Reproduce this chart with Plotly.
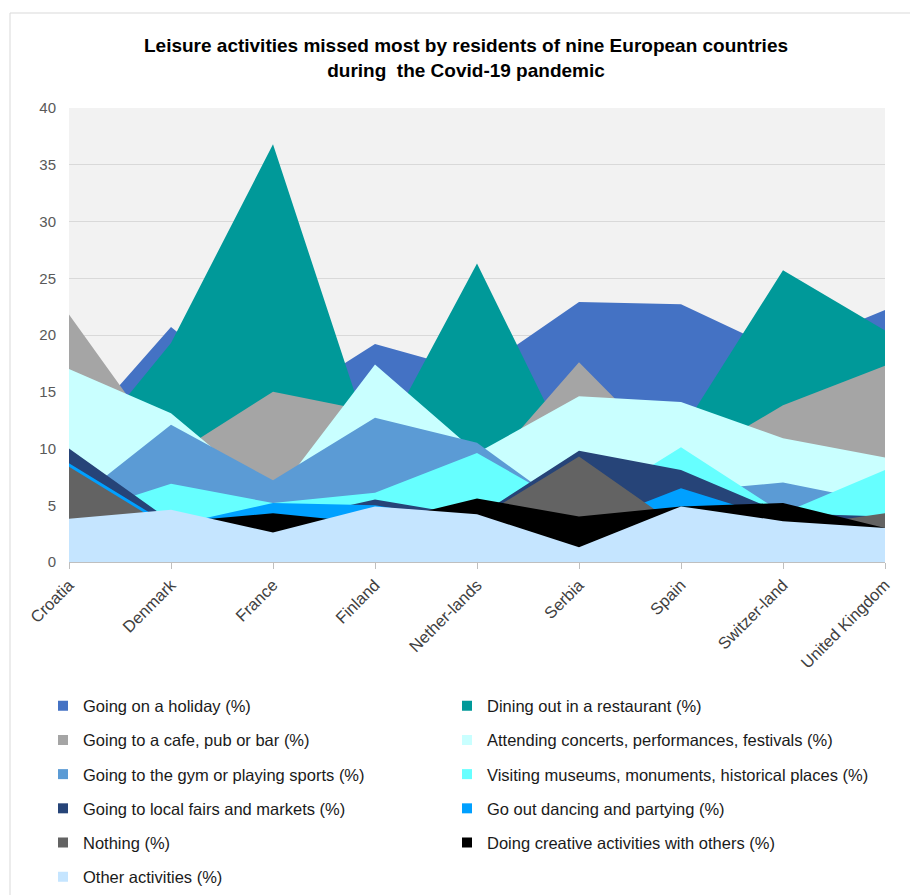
import plotly.graph_objects as go

countries = ["Croatia", "Denmark", "France", "Finland", "Nether-lands",
             "Serbia", "Spain", "Switzer-land", "United Kingdom"]

series_names = [
    "Going on a holiday (%)",
    "Dining out in a restaurant (%)",
    "Going to a cafe, pub or bar (%)",
    "Attending concerts, performances, festivals (%)",
    "Going to the gym or playing sports (%)",
    "Visiting museums, monuments, historical places (%)",
    "Going to local fairs and markets (%)",
    "Go out dancing and partying (%)",
    "Nothing (%)",
    "Doing creative activities with others (%)",
    "Other activities (%)",
]

holiday = [10.5, 20.7, 13.5, 19.2, 16.7, 22.9, 22.7, 18.5, 22.2]
dining = [8.3, 19.3, 36.8, 9.5, 26.3, 8.0, 11.5, 25.7, 20.4]
cafe = [21.8, 9.3, 15.0, 13.2, 7.3, 17.6, 8.5, 13.8, 17.3]
concerts = [17.0, 13.1, 5.6, 17.4, 9.6, 14.6, 14.1, 10.9, 9.2]
gym = [5.0, 12.1, 7.2, 12.7, 10.5, 4.0, 6.2, 7.0, 5.2]
museums = [4.0, 6.9, 5.2, 6.1, 9.6, 4.5, 10.1, 4.3, 8.1]
fairs = [10.0, 3.6, 3.5, 5.5, 4.0, 9.8, 8.1, 4.3, 4.0]
dancing = [8.7, 3.2, 5.2, 5.0, 3.5, 3.0, 6.5, 3.7, 3.0]
nothing = [8.4, 2.9, 2.0, 3.0, 3.8, 9.3, 3.0, 3.0, 4.3]
creative = [3.0, 3.5, 4.3, 3.4, 5.6, 4.0, 4.9, 5.2, 3.0]
other = [3.8, 4.6, 2.6, 4.9, 4.2, 1.3, 4.9, 3.6, 3.0]

colors = ["#4472C4", "#009999", "#A5A5A5", "#C9FFFF", "#5B9BD5", "#66FFFF",
          "#264478", "#00A0FF", "#636363", "#000000", "#C5E5FF"]

values = [holiday, dining, cafe, concerts, gym, museums, fairs, dancing,
          nothing, creative, other]

FONT = "Liberation Sans, Arial, sans-serif"

fig = go.Figure()
for name, vals, col in zip(series_names, values, colors):
    fig.add_trace(go.Scatter(
        x=countries, y=vals, mode="none", fill="tozeroy", fillcolor=col,
        name=name, showlegend=False, hoverinfo="skip"))

# legend entries (square markers, Excel-like), one legend per entry
W, H = 910, 895
L, R, T, B = 69, 25, 108, 333
pw, ph = W - L - R, H - T - B
legend_layouts = {}
for i, (name, col) in enumerate(zip(series_names, colors)):
    lid = "legend" if i == 0 else f"legend{i + 1}"
    fig.add_trace(go.Scatter(
        x=[None], y=[None], mode="markers",
        marker=dict(symbol="square", size=10, color=col),
        name=name, legend=lid, showlegend=True))
    row, colidx = divmod(i, 2)
    xpx = 43 if colidx == 0 else 447
    ypx = 706 + row * 34.2
    legend_layouts[lid] = dict(
        x=(xpx - L) / pw, y=(H - B - ypx) / ph, xanchor="left", yanchor="middle",
        bgcolor="rgba(0,0,0,0)", font=dict(family=FONT, size=16.5, color="#1a1a1a"),
        itemwidth=30)

fig.update_layout(**legend_layouts)

fig.update_layout(
    width=W, height=H,
    margin=dict(l=L, r=R, t=T, b=B, autoexpand=False),
    paper_bgcolor="white", plot_bgcolor="#F2F2F2",
    font=dict(family=FONT),
    title=dict(
        text="Leisure activities missed most by residents of nine European countries<br>during  the Covid-19 pandemic",
        x=466 / W, xanchor="center", xref="container",
        y=1 - 52 / H, yanchor="top", yref="container",
        font=dict(family=FONT, size=19, color="black", weight="bold")),
    xaxis=dict(type="category", range=[0, 8], showgrid=False, zeroline=False,
               showline=True, linecolor="#BFBFBF", linewidth=1,
               ticks="outside", ticklen=6, tickcolor="#BFBFBF",
               tickangle=-45, tickfont=dict(family=FONT, size=16.5, color="#404040")),
    yaxis=dict(range=[0, 40], dtick=5, showgrid=True, gridcolor="#D9D9D9",
               zeroline=False, showline=False, ticks="",
               ticklabelstandoff=12,
               tickfont=dict(family=FONT, size=15, color="#595959")),
    shapes=[dict(type="rect", xref="paper", yref="paper",
                 x0=(10 - L) / pw, x1=(915 - L) / pw,
                 y0=(H - B - 900) / ph, y1=(H - B - 13) / ph,
                 line=dict(color="#D9D9D9", width=1), fillcolor="rgba(0,0,0,0)",
                 layer="below")],
)

fig.write_html("out.html")
